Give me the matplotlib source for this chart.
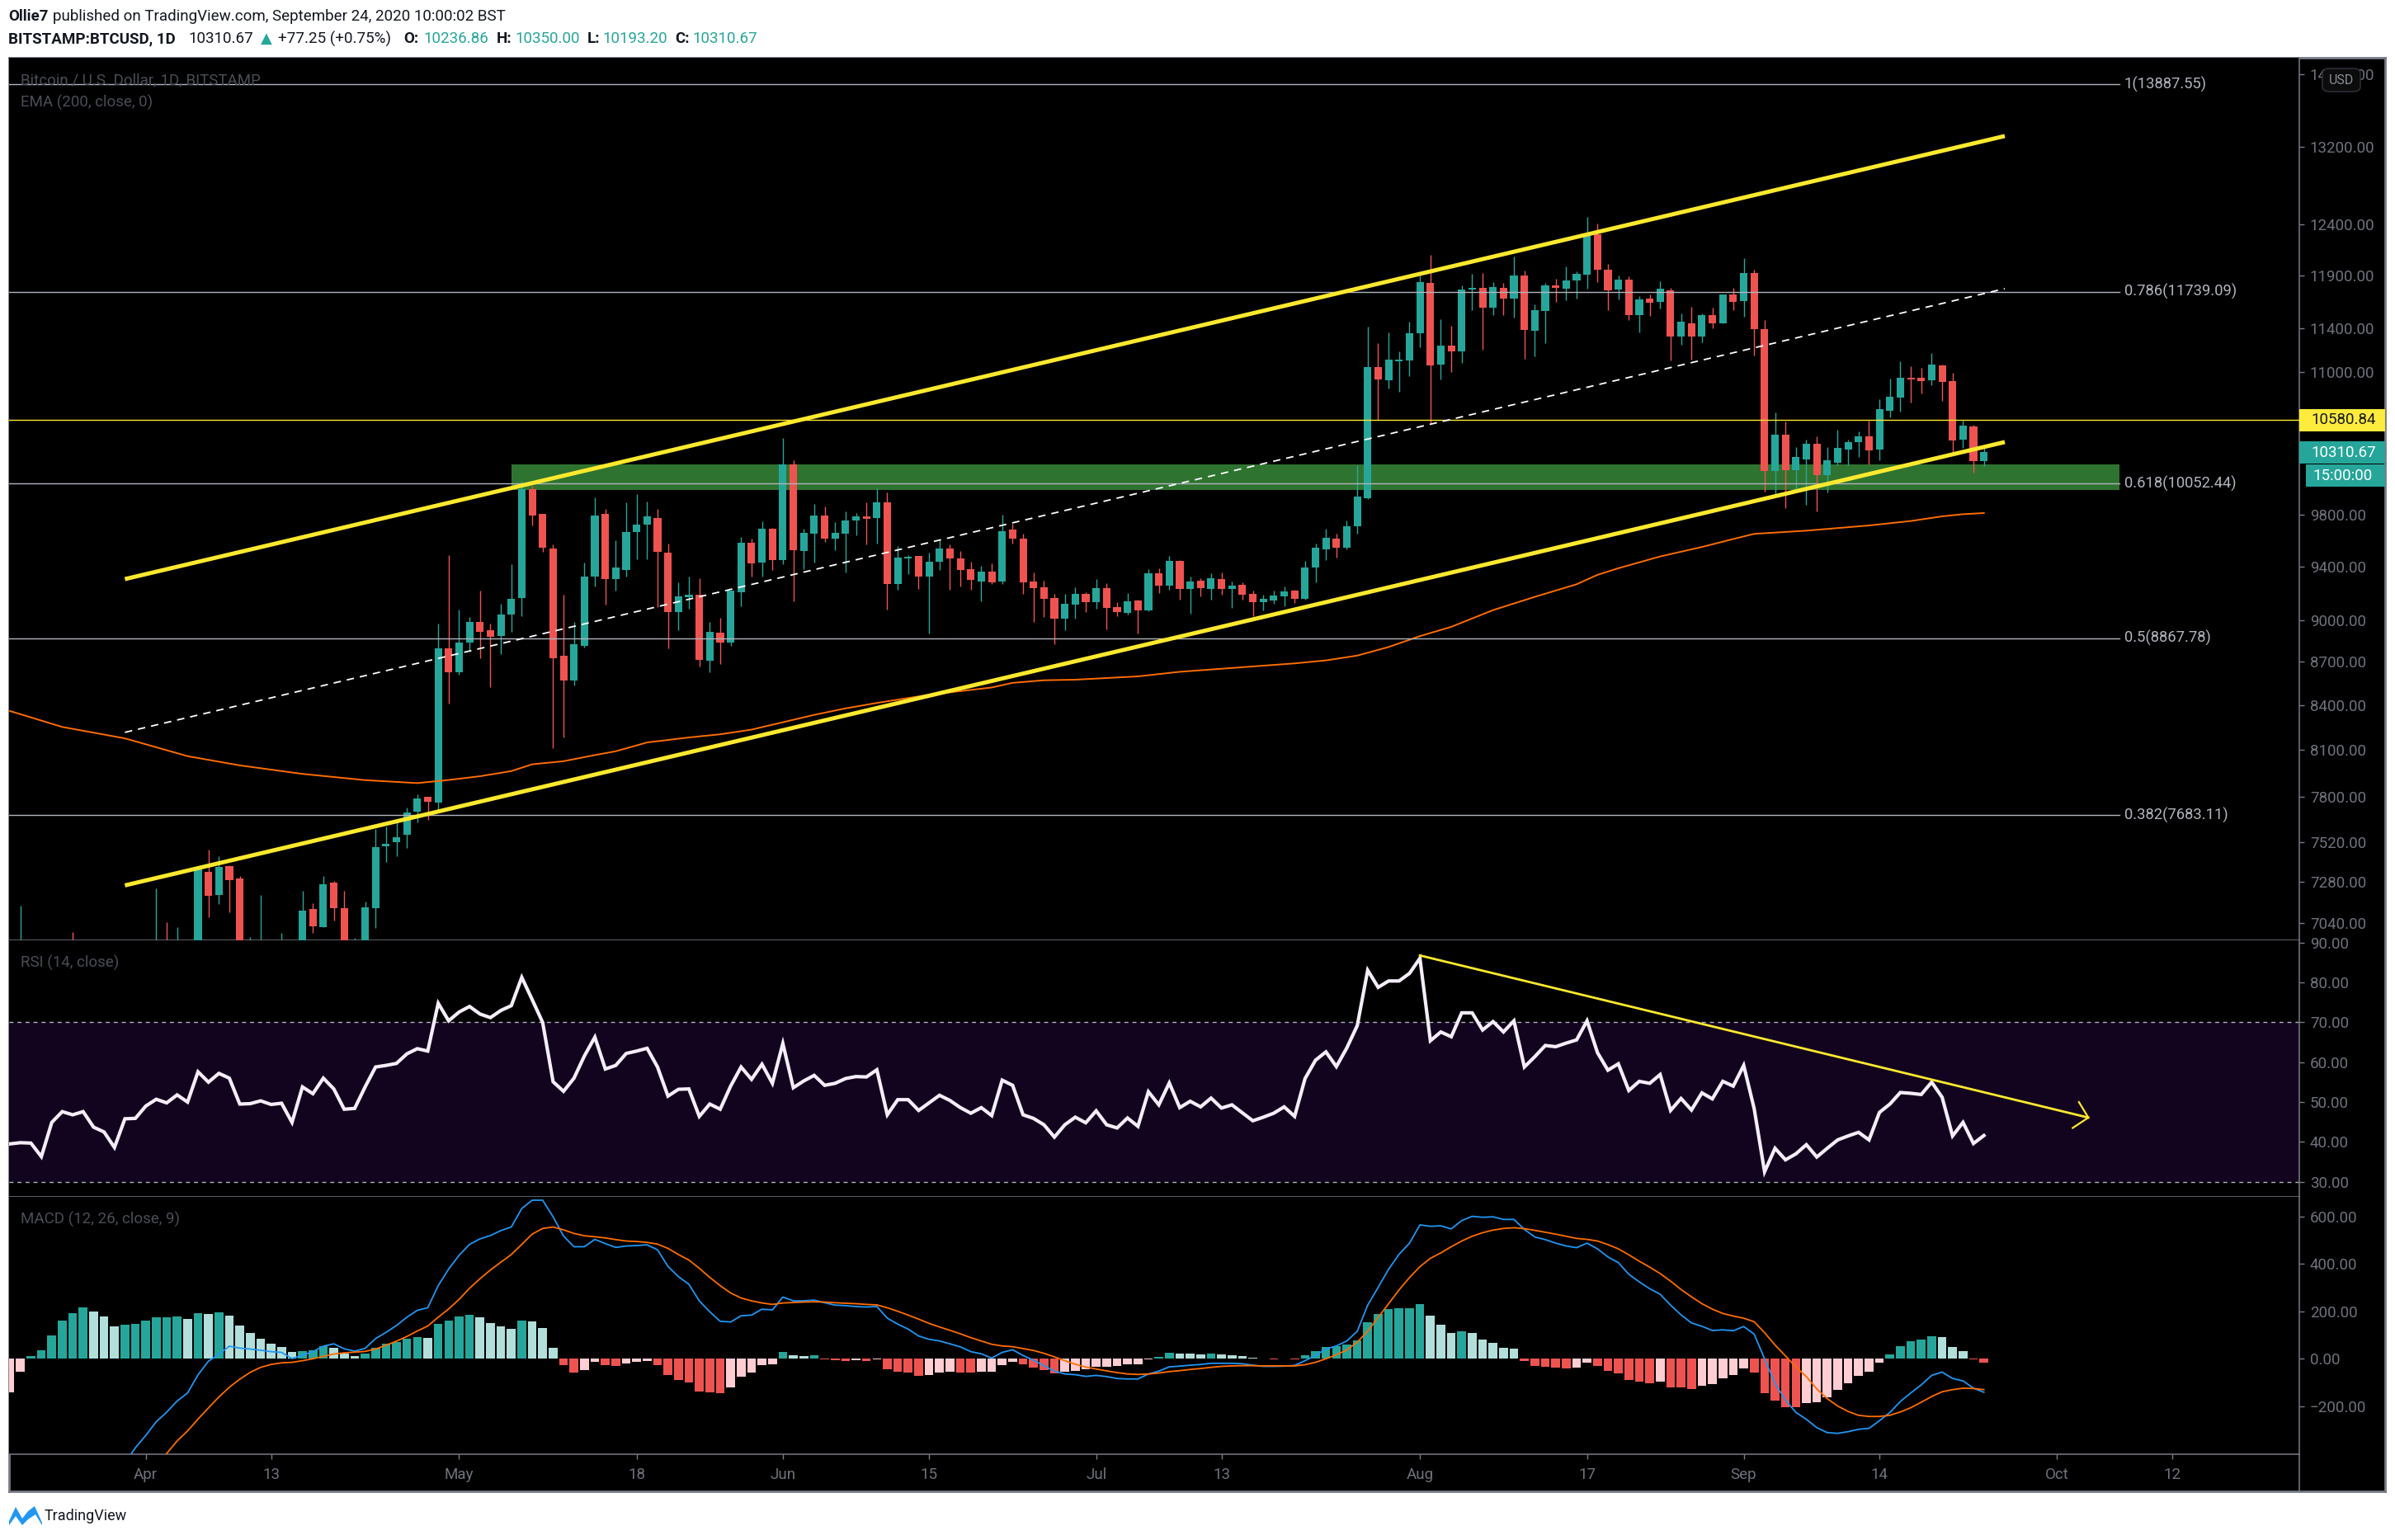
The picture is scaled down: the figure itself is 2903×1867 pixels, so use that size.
import numpy as np
import matplotlib
matplotlib.use('Agg')
import matplotlib.pyplot as plt
from matplotlib.patches import Rectangle, FancyBboxPatch, Polygon
from matplotlib.lines import Line2D

plt.rcParams['font.family'] = ['Roboto', 'DejaVu Sans']

W, H = 2903, 1867
GRAY = '#787b86'
LABEL = '#6f727d'
UP = '#26a69a'
DOWN = '#ef5350'
UP_LIGHT = '#b2dfdb'
DOWN_LIGHT = '#ffcdd2'
YELLOW = '#ffe92e'

# days are counted from 1 April 2020
candle_start = -12
opens = [6200, 6450, 6180, 5830, 6480, 6760, 6680, 6740, 6370, 6250,
         5890, 6400, 6420, 6640, 6800, 6740, 6860, 6770, 7340, 7204,
         7375, 7302, 6860, 6890, 6900, 6850, 6860, 6630, 7120, 7016,
         7274, 7127, 6840, 6880, 7127, 7493, 7518, 7564, 7707, 7801,
         7763, 8793, 8629, 8839, 8987, 8928, 8886, 9037, 9163, 10008,
         9808, 9533, 8744, 8571, 8812, 9319, 9808, 9306, 9374, 9665,
         9725, 9776, 9507, 9060, 9169, 9187, 8710, 8906, 8834, 9206,
         9582, 9427, 9692, 9445, 10207, 9520, 9652, 9795, 9611, 9652,
         9757, 9789, 9776, 9897, 9263, 9460, 9478, 9325, 9432, 9533,
         9463, 9381, 9286, 9362, 9286, 9682, 9614, 9286, 9243, 9163,
         9007, 9114, 9194, 9133, 9236, 9096, 9054, 9145, 9070, 9348,
         9254, 9441, 9229, 9293, 9229, 9305, 9229, 9259, 9194, 9133,
         9145, 9175, 9217, 9156, 9391, 9531, 9614, 9543, 9710, 9935,
         11046, 10925, 11099, 11105, 11355, 11828, 11069, 11239, 11187, 11761,
         11779, 11594, 11779, 11678, 11897, 11374, 11559, 11803, 11770, 11852,
         11906, 12297, 11954, 11761, 11858, 11521, 11678, 11646, 11752, 11323,
         11447, 11323, 11523, 11447, 11717, 11654, 11922, 11393, 10157, 10460,
         10164, 10253, 10383, 10123, 10220, 10335, 10397, 10446, 10335, 10664,
         10779, 10952, 10952, 10930, 11060, 10923, 10418, 10530, 10236.86]
highs = [7142, 6900, 6420, 6780, 6850, 6990, 6780, 6880, 6400, 6250,
         6500, 6600, 6680, 7240, 7047, 7016, 6900, 7371, 7474, 7434,
         7380, 7312, 6960, 7205, 6920, 6985, 6930, 7229, 7157, 7312,
         7283, 7226, 6955, 7163, 7600, 7615, 7650, 7730, 7816, 7801,
         8975, 9486, 9077, 9021, 9214, 8975, 9117, 9417, 10075, 10033,
         9808, 9568, 9187, 8983, 9427, 9942, 9849, 9598, 9897, 9969,
         9908, 9849, 9573, 9276, 9319, 9311, 8983, 9017, 9214, 9627,
         9614, 9749, 9697, 10432, 10245, 9692, 9889, 9865, 9744, 9828,
         9817, 9902, 10010, 9979, 9555, 9486, 9478, 9507, 9601, 9568,
         9520, 9432, 9406, 9424, 9803, 9730, 9652, 9353, 9293, 9192,
         9192, 9243, 9205, 9305, 9274, 9131, 9196, 9149, 9379, 9386,
         9480, 9448, 9324, 9307, 9348, 9355, 9285, 9278, 9217, 9187,
         9217, 9247, 9222, 9441, 9575, 9691, 9654, 9755, 10199, 11412,
         11264, 11361, 11187, 11460, 11897, 12098, 11486, 11423, 11803, 11915,
         11921, 11834, 11828, 12083, 11942, 11622, 11828, 11867, 11984, 11939,
         12476, 12409, 12012, 11897, 11891, 11697, 11717, 11837, 11776, 11538,
         11600, 11538, 11594, 11717, 11779, 12066, 11953, 11477, 10651, 10572,
         10356, 10416, 10446, 10356, 10502, 10416, 10486, 10579, 10764, 10944,
         11100, 11055, 11040, 11173, 11068, 10996, 10579, 10544, 10350.00]
lows = [6100, 5900, 5780, 5700, 6400, 6530, 6520, 6250, 6050, 5860,
        5870, 6150, 6150, 6600, 6620, 6670, 6680, 6770, 7075, 7152,
        7103, 6760, 6700, 6760, 6560, 6770, 6550, 6610, 6985, 7016,
        7055, 6780, 6750, 6860, 7011, 7400, 7434, 7483, 7638, 7653,
        7713, 8409, 8612, 8773, 8725, 8526, 8756, 8916, 9029, 9719,
        9512, 8110, 8183, 8533, 8802, 9250, 9110, 9214, 9325, 9454,
        9454, 9095, 8797, 8923, 9083, 8670, 8629, 8686, 8812, 9102,
        9325, 9325, 9370, 9414, 9135, 9381, 9427, 9585, 9525, 9355,
        9637, 9565, 9575, 9077, 9225, 9343, 9232, 8899, 9374, 9225,
        9250, 9225, 9135, 9268, 9263, 9573, 9192, 8987, 9024, 8827,
        8928, 9010, 9059, 9084, 8933, 9026, 9040, 8901, 9061, 9198,
        9224, 9149, 9047, 9175, 9149, 9187, 9089, 9149, 9026, 9070,
        9121, 9103, 9126, 9149, 9278, 9448, 9467, 9531, 9654, 9927,
        10581, 10854, 10828, 10966, 11224, 10555, 10933, 10999, 11086, 11568,
        11205, 11521, 11521, 11497, 11122, 11142, 11264, 11646, 11660, 11678,
        11770, 11834, 11568, 11670, 11474, 11361, 11515, 11582, 11108, 11245,
        11113, 11273, 11402, 11441, 11569, 11507, 11152, 9985, 9963, 9852,
        9996, 9878, 9826, 9976, 10200, 10200, 10272, 10212, 10245, 10607,
        10657, 10736, 10814, 10887, 10750, 10311, 10349, 10143, 10193.20]
closes = [6450, 6180, 5830, 6480, 6760, 6680, 6740, 6370, 6250, 5890,
          6400, 6420, 6640, 6800, 6740, 6860, 6770, 7355, 7200, 7368,
          7292, 6860, 6890, 6900, 6850, 6860, 6630, 7113, 7020, 7268,
          7127, 6840, 6880, 7130, 7489, 7508, 7547, 7700, 7790, 7767,
          8793, 8624, 8839, 8987, 8916, 8881, 9037, 9158, 10005, 9795,
          9544, 8727, 8571, 8827, 9319, 9795, 9306, 9392, 9665, 9725,
          9789, 9512, 9060, 9174, 9187, 8715, 8911, 8839, 9214, 9582,
          9419, 9692, 9445, 10207, 9525, 9660, 9795, 9611, 9660, 9752,
          9785, 9770, 9897, 9263, 9465, 9473, 9325, 9437, 9533, 9457,
          9374, 9299, 9362, 9281, 9671, 9614, 9281, 9238, 9158, 9007,
          9117, 9194, 9133, 9236, 9089, 9059, 9138, 9070, 9348, 9254,
          9441, 9229, 9285, 9236, 9309, 9229, 9254, 9187, 9133, 9156,
          9182, 9212, 9156, 9391, 9543, 9619, 9543, 9710, 9947, 11046,
          10933, 11113, 11113, 11355, 11834, 11063, 11239, 11187, 11761, 11779,
          11594, 11785, 11678, 11897, 11385, 11568, 11803, 11779, 11852, 11915,
          12297, 11954, 11752, 11858, 11521, 11670, 11637, 11770, 11323, 11456,
          11323, 11523, 11447, 11711, 11647, 11922, 11393, 10157, 10460, 10164,
          10267, 10383, 10123, 10240, 10349, 10397, 10446, 10328, 10678, 10786,
          10952, 10937, 10923, 11068, 10915, 10409, 10537, 10236, 10310.67]

ema_days = [-13, -8, -2, 4, 9, 15, 21, 26, 29, 32, 35, 37, 40, 43, 45, 48, 52, 55,
            58, 60, 64, 67, 70, 75, 78, 81, 83, 86, 89, 95, 99, 105, 110, 113, 116,
            119, 122, 125, 129, 133, 137, 139, 141, 145, 149, 152, 154, 159, 165,
            169, 172, 174, 176]
ema_values = [8360, 8253, 8177, 8060, 8000, 7945, 7905, 7886, 7906, 7930, 7963, 8007,
              8027, 8067, 8092, 8150, 8183, 8204, 8235, 8268, 8334, 8378, 8415, 8471,
              8496, 8521, 8553, 8571, 8575, 8598, 8630, 8662, 8689, 8710, 8744, 8805,
              8883, 8950, 9072, 9170, 9264, 9335, 9385, 9475, 9548, 9610, 9650, 9675,
              9716, 9751, 9788, 9805, 9814]

fib_levels = [13887.55, 11739.09, 10052.44, 8867.78, 7683.11]
fib_labels = ['1(13887.55)', '0.786(11739.09)', '0.618(10052.44)', '0.5(8867.78)', '0.382(7683.11)']
last_level = 10580.84
zone_low, zone_high = 10000, 10210

channel_days = [-2, 178]
channel_upper = [9303, 13319]
channel_mid = [8217, 11770]
channel_lower = [7259, 10395]

price_ticks = [14000, 13200, 12400, 11900, 11400, 11000, 9800, 9400, 9000, 8700,
               8400, 8100, 7800, 7520, 7280, 7040]

rsi_start = -13
rsi = [39.5, 39.8, 39.7, 36.3, 44.9, 47.6, 46.8, 47.6, 43.7, 42.5, 38.6, 45.8, 45.9,
       49.0, 50.7, 49.8, 51.8, 50.0, 57.6, 55.0, 57.2, 56.0, 49.5, 49.6, 50.3, 49.4,
       49.7, 44.9, 53.8, 52.1, 56.0, 53.3, 48.2, 48.4, 53.8, 58.8, 59.2, 59.7, 62.1,
       63.4, 62.8, 74.8, 70.4, 72.6, 74.0, 72.1, 71.2, 73.0, 74.2, 81.3, 75.7, 70.0,
       55.1, 52.7, 56.0, 61.6, 66.3, 58.3, 59.2, 62.2, 62.8, 63.5, 58.8,
       51.5, 53.2, 53.3, 46.4, 49.5, 48.2, 54.0, 58.8, 55.7, 59.5, 54.7, 64.7, 53.6,
       55.3, 56.7, 54.2, 54.7, 55.9, 56.4, 56.3, 58.1, 46.8, 50.6, 50.6, 47.9, 49.8,
       51.7, 50.4, 48.6, 47.2, 48.6, 46.6, 55.5, 54.2, 46.8, 45.9, 44.3, 41.2, 44.3,
       46.2, 44.8, 47.8, 44.3, 43.5, 46.0, 43.9, 52.6, 49.3, 54.8, 48.6, 50.2, 48.8,
       51.0, 48.5, 49.3, 47.3, 45.3, 46.2, 47.2, 48.8, 46.4, 55.9, 60.5,
       62.6, 58.9, 63.6, 69.2, 83.1, 78.8, 80.4, 80.4, 82.3, 86.1, 65.4, 67.6, 66.4,
       72.4, 72.4, 68.1, 70.2, 67.6, 70.4, 58.8, 61.4, 64.2, 63.9, 64.8, 65.6, 70.4,
       62.4, 58.0, 59.6, 52.9, 55.2, 54.7, 56.9, 47.9, 50.9, 48.0, 52.3, 50.8, 55.2,
       54.0, 59.2, 48.4, 32.5, 38.4, 35.5, 37.0, 39.3, 36.2, 38.4, 40.5, 41.5, 42.4,
       40.5, 47.4, 49.5, 52.4, 52.2, 51.9, 55.0, 51.2, 41.5, 44.9, 39.6, 41.6]
rsi_ticks = [30, 40, 50, 60, 70, 80, 90]
rsi_trend_days = [122, 186]
rsi_trend_values = [86.8, 46.1]
arrow_days = [185.1, 186, 184.5]
arrow_values = [50.0, 46.1, 43.5]

hist_start = -13
hist = [-142, -54, 10, 35, 97, 160, 191, 215, 198, 178, 136, 142, 146, 160, 174, 175,
        177, 167, 191, 189, 195, 181, 139, 108, 83, 63, 49, 30, 31, 37, 53, 45, 22, 10,
        21, 45, 63, 70, 83, 90, 87, 146, 160, 177, 184, 174, 149, 136, 125, 160, 156,
        129, 45, -28, -59, -49, -14, -28, -31, -21, -14, -10, -28, -70, -90, -101, -139,
        -142, -146, -122, -76, -59, -28, -24, 28, 14, 10, 14, -3, -7, -8, -6, -10, -3,
        -45, -56, -59, -73, -70, -59, -56, -57, -59, -56, -55, -28, -14,
        -25, -36, -46, -60, -56, -50, -43, -32, -32, -31, -25, -22, -2, 9, 27, 23, 22, 20,
        23, 20, 16, 13, 3, 1, -2, 1, -1, 16, 34, 51, 52, 61, 79, 155, 190, 211, 212, 214,
        232, 180, 145, 110, 114, 107, 82, 68, 47, 41, -8, -29, -32, -36, -39, -38, -15,
        -29, -50, -60, -88, -95, -102, -95, -119, -120, -126, -112, -105, -81, -67, -39,
        -57, -144, -175, -203, -204, -185, -182, -161, -130, -102, -71, -53, -15, 20, 54,
        75, 82, 96, 93, 51, 34, -2, -15]
macd_start = -2
macd = [-439, -375, -323, -265, -225, -178, -144, -68, -10, 19, 53, 45, 41, 36, 30, 27, 1,
        15, 30, 53, 63, 42, 32, 44, 85, 111, 140, 175, 204, 215, 308, 378, 436, 482, 505,
        519, 540, 555, 633, 668, 668, 598, 517, 472, 472, 503, 485, 469, 475, 477, 480,
        459, 389, 346, 314, 244, 198, 158, 155, 181, 184, 209, 206, 260, 244, 244, 247,
        236, 226, 224, 220, 218, 220, 171, 146, 125, 96, 82, 75, 63, 50, 30, 21, 3, 27, 38,
        14, -6, -29, -52, -64, -67, -74, -70, -75, -83, -85, -85, -64, -52, -34, -31, -27,
        -24, -19, -19, -19, -21, -27, -32, -32, -31, -28, -8, 14, 41, 54, 75, 116, 226, 301,
        377, 440, 487, 564, 558, 560, 547, 582, 600, 596, 598, 587, 587, 545, 513, 502,
        487, 475, 468, 487, 463, 429, 405, 356, 324, 295, 272, 226, 185, 151, 137, 119, 122,
        118, 136, 104, 0, -104, -174, -226, -255, -290, -311, -314, -307, -297, -293, -261,
        -226, -180, -144, -110, -70, -56, -83, -93, -124, -141]
signal_start = 1
signal = [-456, -399, -346, -304, -254, -207, -161, -120, -86, -57, -36, -24, -17, -15, -8, 0,
          10, 20, 25, 28, 31, 41, 57, 74, 94, 117, 138, 175, 210, 250, 297, 337, 374, 407,
          439, 482, 525, 549, 555, 543, 528, 518, 514, 509, 502, 496, 494, 490, 483, 465,
          439, 416, 381, 343, 308, 277, 256, 244, 235, 229, 235, 237, 239, 240, 239, 236,
          234, 232, 229, 227, 215, 200, 184, 167, 149, 134, 120, 105, 89, 75, 61, 54, 51,
          43, 35, 23, 8, -8, -23, -35, -43, -51, -58, -64, -66, -64, -60, -54, -50, -45, -41,
          -36, -32, -30, -29, -29, -30, -30, -30, -30, -25, -15, 0, 17, 37, 70, 116, 174, 232,
          290, 342, 388, 423, 446, 472, 496, 516, 531, 542, 549, 552, 548, 541, 533, 525,
          516, 507, 503, 496, 481, 463, 438, 411, 386, 359, 327, 292, 261, 232, 209, 191,
          180, 171, 156, 110, 58, 12, -35, -75, -127, -168, -199, -222, -238, -243, -243,
          -238, -224, -206, -183, -159, -139, -130, -124, -125, -130]
macd_ticks = [-200, 0, 200, 400, 600]

time_ticks = [0, 12, 30, 47, 61, 75, 91, 103, 122, 138, 153, 166, 183, 194]
time_labels = ['Apr', '13', 'May', '18', 'Jun', '15', 'Jul', '13', 'Aug', '17', 'Sep', '14', 'Oct', '12']

AXIS_X = 2787
FRAME_R = 2891


def box(left, top, right, bottom):
    return [left / W, 1 - bottom / H, (right - left) / W, (bottom - top) / H]


def fig_rect(left, top, right, bottom, color, z=5):
    fig.add_artist(Rectangle((left / W, 1 - bottom / H), (right - left) / W, (bottom - top) / H,
                             transform=fig.transFigure, facecolor=color, edgecolor='none', zorder=z))


def fig_label(x, y, s, **kw):
    kw.setdefault('fontsize', 13.5)
    kw.setdefault('va', 'center')
    kw.setdefault('zorder', 6)
    return fig.text(x / W, 1 - y / H, s, **kw)


def style_panel(ax, ticks, labels):
    ax.set_facecolor('black')
    ax.set_xlim(-13.09, 206.2)
    ax.yaxis.tick_right()
    ax.set_yticks(ticks)
    ax.set_yticklabels(labels)
    ax.minorticks_off()
    ax.tick_params(axis='y', which='both', length=4.3, width=1, color=GRAY, labelcolor=LABEL,
                   labelsize=13.5, pad=5)
    ax.tick_params(axis='x', which='both', length=0, labelbottom=False)
    for side, spine in ax.spines.items():
        spine.set_visible(side in ('right', 'bottom'))
        spine.set_color(GRAY)
        spine.set_linewidth(1.1)


fig = plt.figure(figsize=(W / 100, H / 100), dpi=100, facecolor='white')

frame = fig.add_axes(box(11, 70, FRAME_R, 1808), facecolor='black')
frame.set_xticks([])
frame.set_yticks([])
for spine in frame.spines.values():
    spine.set_color(GRAY)
    spine.set_linewidth(2)

ax_price = fig.add_axes(box(11, 70, AXIS_X, 1140))
ax_rsi = fig.add_axes(box(11, 1140, AXIS_X, 1451))
ax_macd = fig.add_axes(box(11, 1451, AXIS_X, 1763))

# price panel
ax_price.set_yscale('log')
ax_price.set_ylim(6943, 14191)
style_panel(ax_price, price_ticks, [f'{t:.2f}' for t in price_ticks])

days = np.arange(candle_start, candle_start + len(opens))
o, h, l, c = map(np.array, (opens, highs, lows, closes))
colors = np.where(c >= o, UP, DOWN)
fib_end = 189.0

ax_price.fill_between([35, fib_end], zone_low, zone_high, color='#2e7430', lw=0, zorder=1)
ax_price.vlines(days, l, h, colors=colors, lw=1.0, zorder=2)
ax_price.bar(days, np.maximum(np.abs(c - o), 8), bottom=np.minimum(o, c), width=0.72,
             color=colors, lw=0, zorder=3)
ax_price.plot(ema_days, ema_values, color='#ff6d00', lw=1.4, zorder=4)

for level, label in zip(fib_levels, fib_labels):
    ax_price.plot([-13.09, fib_end], [level, level], color='#b2b5be', lw=1.0, zorder=4)
    ax_price.text(fib_end + 0.45, level, label, color='#b2b5be', fontsize=13.2, va='center', zorder=6)

ax_price.axhline(last_level, color=YELLOW, lw=1.0, zorder=4)
ax_price.plot(channel_days, channel_mid, color='white', lw=1.3, ls=(0, (5, 4)), zorder=5)
ax_price.plot(channel_days, channel_upper, color=YELLOW, lw=3.6, zorder=5, solid_capstyle='butt')
ax_price.plot(channel_days, channel_lower, color=YELLOW, lw=3.6, zorder=5, solid_capstyle='butt')

# RSI panel
ax_rsi.set_ylim(26.2, 90.6)
style_panel(ax_rsi, rsi_ticks, [f'{t:.2f}' for t in rsi_ticks])
ax_rsi.axhspan(30, 70, color='#12041f', lw=0, zorder=1)
for level in (30, 70):
    ax_rsi.axhline(level, color='#b2b5be', lw=1.0, ls=(0, (3.5, 3.5)), zorder=2)
ax_rsi.plot(np.arange(rsi_start, rsi_start + len(rsi)), rsi, color='#f5eefa', lw=3.0,
            solid_joinstyle='miter', zorder=3)
ax_rsi.plot(rsi_trend_days, rsi_trend_values, color=YELLOW, lw=2.0, zorder=4)
ax_rsi.plot(arrow_days, arrow_values, color=YELLOW, lw=1.6, zorder=4)

# MACD panel
ax_macd.set_ylim(-402, 682)
style_panel(ax_macd, macd_ticks, [f'{t:.2f}'.replace('-', '\u2212') for t in macd_ticks])
hist_days = np.arange(hist_start, hist_start + len(hist))
hist_colors = []
for i, v in enumerate(hist):
    prev = hist[i - 1] if i else v
    if v >= 0:
        hist_colors.append(UP if v > prev else UP_LIGHT)
    else:
        hist_colors.append(DOWN if v < prev else DOWN_LIGHT)
ax_macd.bar(hist_days, hist, width=0.84, color=hist_colors, lw=0, zorder=2)
ax_macd.plot(np.arange(macd_start, macd_start + len(macd)), macd, color='#2196f3', lw=1.3, zorder=3)
ax_macd.plot(np.arange(signal_start, signal_start + len(signal)), signal, color='#ff6d00', lw=1.3, zorder=4)

ax_macd.tick_params(axis='x', length=4.3, width=1, color=GRAY, labelbottom=True, labelcolor=LABEL,
                    labelsize=13.5, pad=7)
ax_macd.set_xticks(time_ticks)
ax_macd.set_xticklabels(time_labels)

# axis line carries on through the time scale
fig.add_artist(Line2D([AXIS_X / W, AXIS_X / W], [1 - 1763 / H, 1 - 1808 / H], color=GRAY, lw=1.1,
                      transform=fig.transFigure, zorder=5))

# header
fig_label(10, 20, 'Ollie7', fontweight='bold', color='#131722')
fig_label(64, 20, 'published on TradingView.com, September 24, 2020 10:00:02 BST', color='#131722')
fig_label(10, 47, 'BITSTAMP:BTCUSD, 1D', fontweight='bold', color='#131722')
fig_label(228, 47, '10310.67', color='#131722')
fig_label(316, 47, '\u25b2', color=UP, fontsize=13, family='DejaVu Sans')
fig_label(337, 47, '+77.25 (+0.75%)', color='#131722')
for x, s in zip([489, 602, 712, 818], ['O:', 'H:', 'L:', 'C:']):
    fig_label(x, 47, s, fontweight='bold', color='#131722')
for x, s in zip([513, 624, 730, 839], ['10236.86', '10350.00', '10193.20', '10310.67']):
    fig_label(x, 47, s, color=UP)

# pane legends
fig_label(25, 97, 'Bitcoin / U.S. Dollar, 1D, BITSTAMP', color='#4a4d57')
fig_label(25, 124, 'EMA (200, close, 0)', color='#4a4d57')
fig_label(25, 1167, 'RSI (14, close)', color='#4a4d57')
fig_label(25, 1478, 'MACD (12, 26, close, 9)', color='#4a4d57')

# price tags
fig_rect(AXIS_X, 496, FRAME_R, 523, '#ffeb3b')
fig_label(2801, 509.5, '10580.84', color='#131722')
fig_rect(AXIS_X, 535, FRAME_R, 562, UP)
fig_label(2801, 548.5, '10310.67', color='white')
fig_rect(2795, 563, FRAME_R, 590, UP)
fig_label(2803, 576.5, '15:00:00', color='white')

# USD button
fig.add_artist(FancyBboxPatch((2815 / W, 1 - 111 / H), 46 / W, 28 / H, transform=fig.transFigure,
                              boxstyle='round,pad=0,rounding_size=0.003', facecolor='#0c0c0c',
                              edgecolor='#33353d', lw=1, zorder=5))
fig_label(2838, 97, 'USD', color='#8a8d97', fontsize=11.5, ha='center')

# logo
logo_x = [11, 19, 27, 34, 42, 51, 51, 43, 34, 27, 19, 11]
logo_y = [1844, 1827, 1841, 1832, 1826, 1846, 1849, 1836, 1842, 1849, 1838, 1849]
fig.add_artist(Polygon(np.column_stack([np.array(logo_x) / W, 1 - np.array(logo_y) / H]),
                       transform=fig.transFigure, facecolor='#2196f3', edgecolor='none', zorder=5))
fig_label(54, 1838, 'TradingView', color='#131722', fontsize=13)

fig.savefig('out.png', dpi=100, facecolor='white')
